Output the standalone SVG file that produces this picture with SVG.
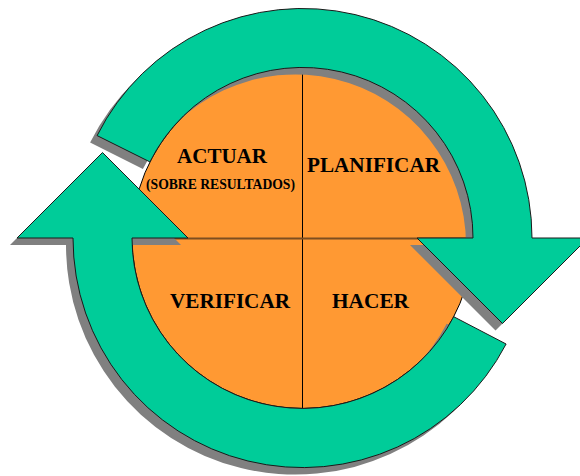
<svg xmlns="http://www.w3.org/2000/svg" width="580" height="476" viewBox="0 0 580 476">
<style>
.q{fill:#FF9933;stroke:none}
.lbl{font-family:'Liberation Serif','DejaVu Serif',serif;font-weight:bold;fill:#000}
.big{font-size:20px}
.small{font-size:14px}
.arrow{fill:#00CC99;stroke:#1a1a1a;stroke-width:1;stroke-linejoin:miter}
.shadow{fill:#808080;stroke:none}
</style>
<defs>
<path id="arrowTop" d="M97.1 135.6 A229.5 229.5 0 0 1 532 238 L588 238 L502.5 323.5 L417 238 L473 238 A170.5 170.5 0 0 0 149.9 161.9 Z"/>
<path id="arrowBottom" d="M506.1 344 A229.5 229.5 0 0 1 73 238 L17 238 L102.5 152.5 L188 238 L132 238 A170.5 170.5 0 0 0 453.7 316.7 Z"/>
</defs>
<g id="actuar">
<path class="q" d="M302.5 238 L132 238 A170.5 170.5 0 0 1 302.5 67.5 Z"/>
</g>
<g id="planificar">
<path class="q" d="M302.5 238 L302.5 67.5 A170.5 170.5 0 0 1 473 238 Z"/>
</g>
<g id="hacer">
<path class="q" d="M302.5 238 L473 238 A170.5 170.5 0 0 1 302.5 408.5 Z"/>
</g>
<g id="verificar">
<path class="q" d="M302.5 238 L302.5 408.5 A170.5 170.5 0 0 1 132 238 Z"/>
</g>
<g id="dividers">
<circle cx="302.5" cy="238" r="170.5" fill="none" stroke="#000" stroke-width="1"/>
<line x1="302.5" y1="67.5" x2="302.5" y2="408.5" stroke="#000" stroke-width="1"/>
<line x1="132" y1="238.5" x2="473" y2="238.5" stroke="#7d4e20" stroke-width="2"/>
</g>
<g id="connectors">
<use href="#arrowTop" class="shadow" transform="translate(-7 7)"/>
<use href="#arrowBottom" class="shadow" transform="translate(-7 7)"/>
<use href="#arrowTop" class="arrow"/>
<use href="#arrowBottom" class="arrow"/>
</g>
<g id="labels" font-family="'Liberation Serif', 'DejaVu Serif', serif" font-weight="bold">
<text class="lbl big" x="177" y="163.3" textLength="90" lengthAdjust="spacingAndGlyphs">ACTUAR</text>
<text class="lbl small" x="146" y="189.3" textLength="149" lengthAdjust="spacingAndGlyphs">(SOBRE RESULTADOS)</text>
<text class="lbl big" x="307" y="171.7" textLength="133" lengthAdjust="spacingAndGlyphs">PLANIFICAR</text>
<text class="lbl big" x="170" y="308.3" textLength="120" lengthAdjust="spacingAndGlyphs">VERIFICAR</text>
<text class="lbl big" x="332" y="308.3" textLength="77" lengthAdjust="spacingAndGlyphs">HACER</text>
</g>
</svg>
